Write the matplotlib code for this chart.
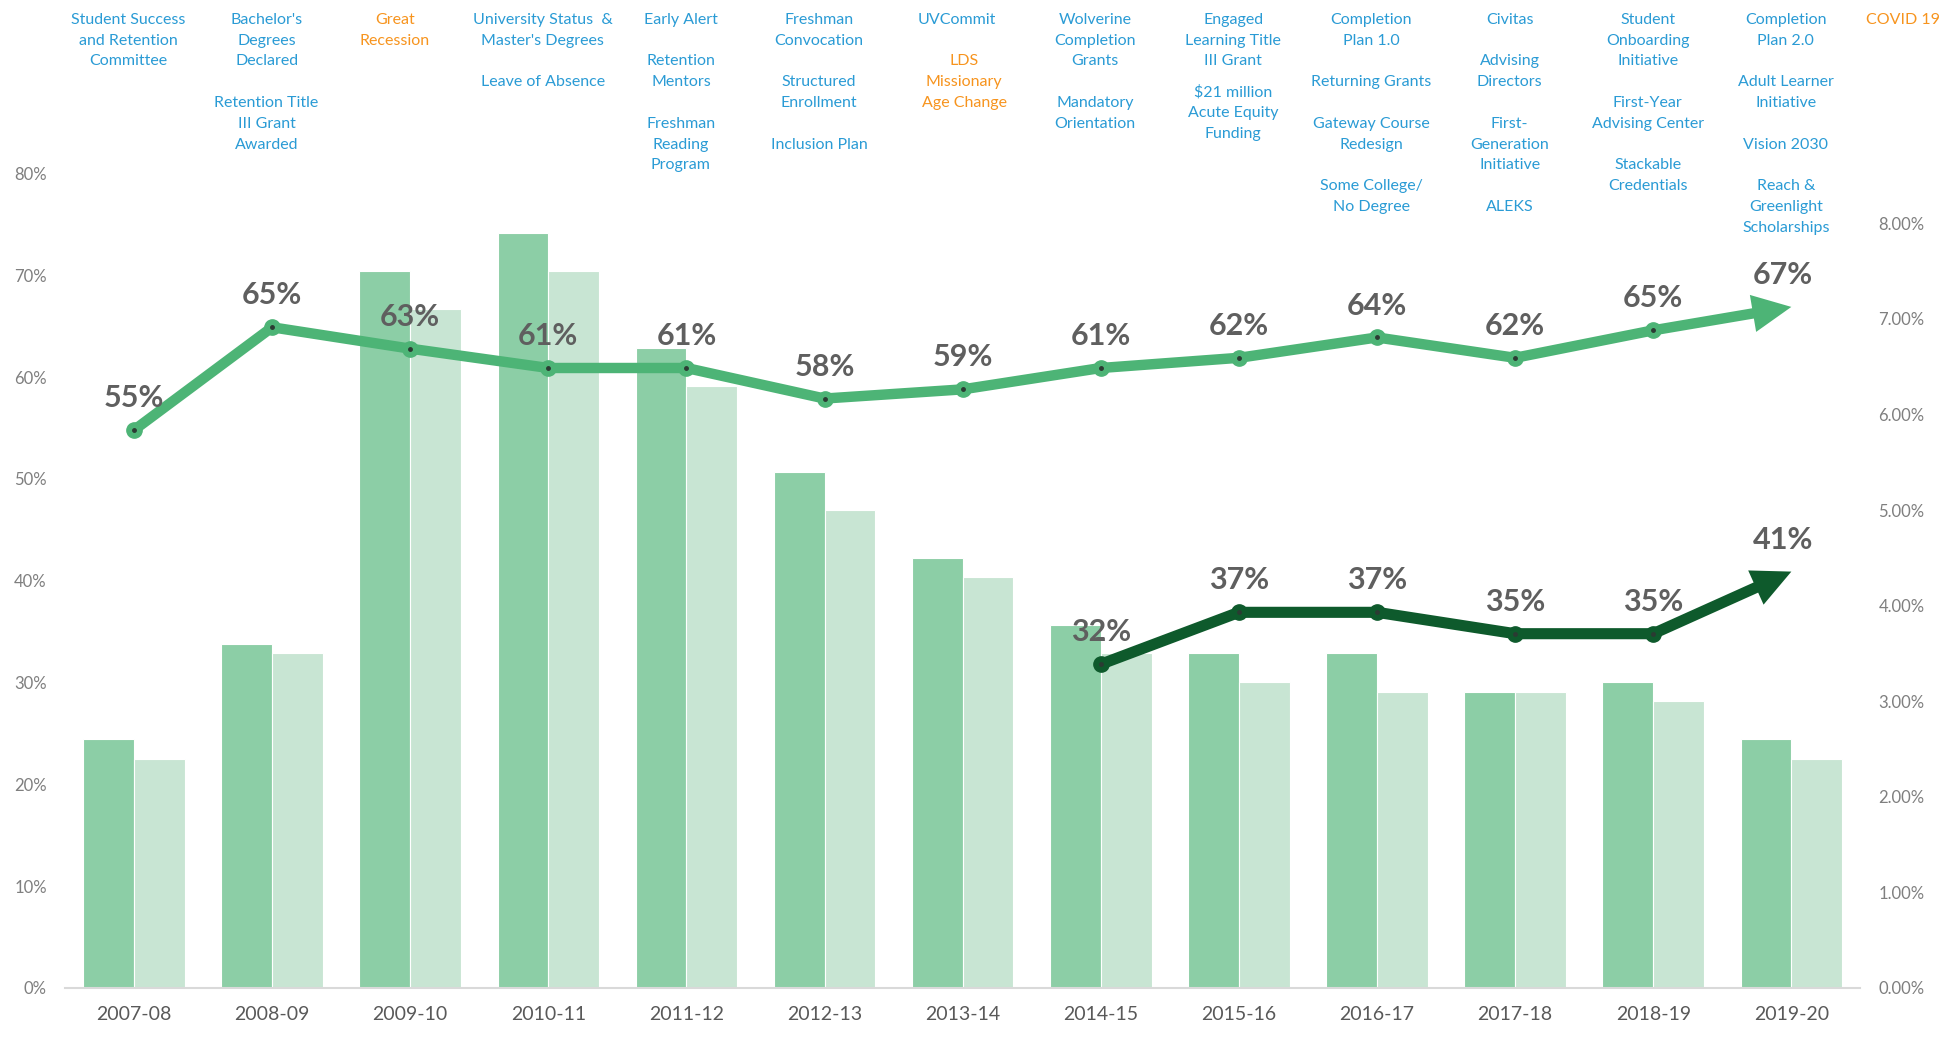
import matplotlib.pyplot as plt
import matplotlib.transforms as mtransforms
import numpy as np

plt.rcParams['font.family'] = ['Lato', 'DejaVu Sans']

years = ['2007-08', '2008-09', '2009-10', '2010-11', '2011-12', '2012-13', '2013-14',
         '2014-15', '2015-16', '2016-17', '2017-18', '2018-19', '2019-20']
# bars, right axis (%)
bar_dark = [2.6, 3.6, 7.5, 7.9, 6.7, 5.4, 4.5, 3.8, 3.5, 3.5, 3.1, 3.2, 2.6]
bar_light = [2.4, 3.5, 7.1, 7.5, 6.3, 5.0, 4.3, 3.5, 3.2, 3.1, 3.1, 3.0, 2.4]
# lines, left axis (%)
rate_all = [54.8, 64.9, 62.8, 60.9, 60.9, 57.9, 58.8, 60.9, 61.9, 63.9, 61.9, 64.6, 66.9]
rate_sub_start = 7  # starts at 2014-15
rate_sub = [31.8, 36.9, 36.9, 34.8, 34.8, 40.9]

notes = [
    "Student Success\nand Retention\nCommittee",
    "Bachelor's\nDegrees\nDeclared\n\nRetention Title\nIII Grant\nAwarded",
    "",
    "University Status  &\nMaster's Degrees\n\nLeave of Absence",
    "Early Alert\n\nRetention\nMentors\n\nFreshman\nReading\nProgram",
    "Freshman\nConvocation\n\nStructured\nEnrollment\n\nInclusion Plan",
    "UVCommit",
    "Wolverine\nCompletion\nGrants\n\nMandatory\nOrientation",
    "Engaged\nLearning Title\nIII Grant",
    "Completion\nPlan 1.0\n\nReturning Grants\n\nGateway Course\nRedesign\n\nSome College/\nNo Degree",
    "Civitas\n\nAdvising\nDirectors\n\nFirst-\nGeneration\nInitiative\n\nALEKS",
    "Student\nOnboarding\nInitiative\n\nFirst-Year\nAdvising Center\n\nStackable\nCredentials",
    "Completion\nPlan 2.0\n\nAdult Learner\nInitiative\n\nVision 2030\n\nReach &\nGreenlight\nScholarships",
]
# (column, text, colour, first line index)
extra_notes = [
    (1.93, "Great\nRecession", 'orange', 0),
    (6.05, "LDS\nMissionary\nAge Change", 'orange', 2),
    (8, "$21 million\nAcute Equity\nFunding", 'blue', 3.5),
    (12.85, "COVID 19", 'orange', 0),
]

BLUE = '#2a9bd5'
ORANGE = '#f7941e'
DARK_BAR = '#8ccea6'
LIGHT_BAR = '#c8e5d3'
LINE1 = '#4db476'
LINE2 = '#0e5a2c'
LABEL = '#5f5f5f'
TICK = '#7f7f7f'

fig = plt.figure(figsize=(19.44, 10.38), dpi=100)
ax = fig.add_axes([0.0334, 0.0482, 0.9236, 0.7846])
ax2 = ax.twinx()

x = np.arange(len(years))
w = 0.368
ax.bar(x - w / 2, bar_dark, w, color=DARK_BAR, edgecolor='white', linewidth=0.8, zorder=2)
ax.bar(x + w / 2, bar_light, w, color=LIGHT_BAR, edgecolor='white', linewidth=0.8, zorder=2)
ax.set_ylim(0, 8.52)
ax.set_xlim(-0.5, len(years) - 0.5)
ax.set_yticks(np.arange(0, 9))
ax.set_yticklabels([f'{v:.2f}%' for v in np.arange(0, 9)])
ax.yaxis.tick_right()
ax.tick_params(axis='y', length=0, pad=13, labelsize=12, labelcolor=TICK)
ax.set_xticks(x)
ax.set_xticklabels(years)
ax.tick_params(axis='x', length=0, pad=13, labelsize=14, labelcolor='#595959')
for s in ['top', 'left', 'right']:
    ax.spines[s].set_visible(False)
ax.spines['bottom'].set_color('#d9d9d9')
ax.spines['bottom'].set_linewidth(1.5)


def draw_line(xs, ys, color, lw):
    xs = np.asarray(xs)
    ys = np.asarray(ys)
    ax2.plot(xs[:-1], ys[:-1], color=color, lw=lw, solid_capstyle='round',
             solid_joinstyle='round', marker='o', ms=11, zorder=3)
    ax2.plot(xs[:-1], ys[:-1], ls='none', marker='o', ms=2.5, color='#2b3b33', zorder=4)
    ax2.annotate('', xy=(xs[-1], ys[-1]), xytext=(xs[-2], ys[-2]),
                 arrowprops=dict(width=lw, headwidth=27, headlength=28, color=color,
                                 lw=0, shrink=0), zorder=3)
    for i, (xi, yi) in enumerate(zip(xs, ys)):
        dx = -6 if i == len(xs) - 1 else 0
        ax2.annotate(f'{yi:.0f}%', (xi, yi), xytext=(dx, 23), textcoords='offset points',
                     ha='center', va='center', fontsize=22, fontweight='bold',
                     color=LABEL, zorder=5)


draw_line(x, rate_all, LINE1, 7.5)
draw_line(x[rate_sub_start:], rate_sub, LINE2, 8)

ax2.set_ylim(0, 80)
ax2.set_yticks(np.arange(0, 81, 10))
ax2.set_yticklabels([f'{v}%' for v in range(0, 81, 10)])
ax2.yaxis.tick_left()
ax2.tick_params(axis='y', length=0, pad=13, labelsize=12, labelcolor=TICK)
for s in ax2.spines.values():
    s.set_visible(False)

# milestone notes along the top
trans = mtransforms.blended_transform_factory(ax.transData, fig.transFigure)
top_px = 19.8
pitch = 20.8
H = 1038


def put_lines(col, text, color, start):
    for i, line in enumerate(text.split('\n')):
        if not line:
            continue
        y = 1 - (top_px + (start + i) * pitch) / H
        ax.text(col - 0.04, y, line, transform=trans, ha='center', va='center',
                fontsize=11.5, color=color, clip_on=False)


for col, text in enumerate(notes):
    put_lines(col, text, BLUE, 0)
for col, text, c, start in extra_notes:
    put_lines(col, text, ORANGE if c == 'orange' else BLUE, start)

fig.savefig('out.png', dpi=100)
